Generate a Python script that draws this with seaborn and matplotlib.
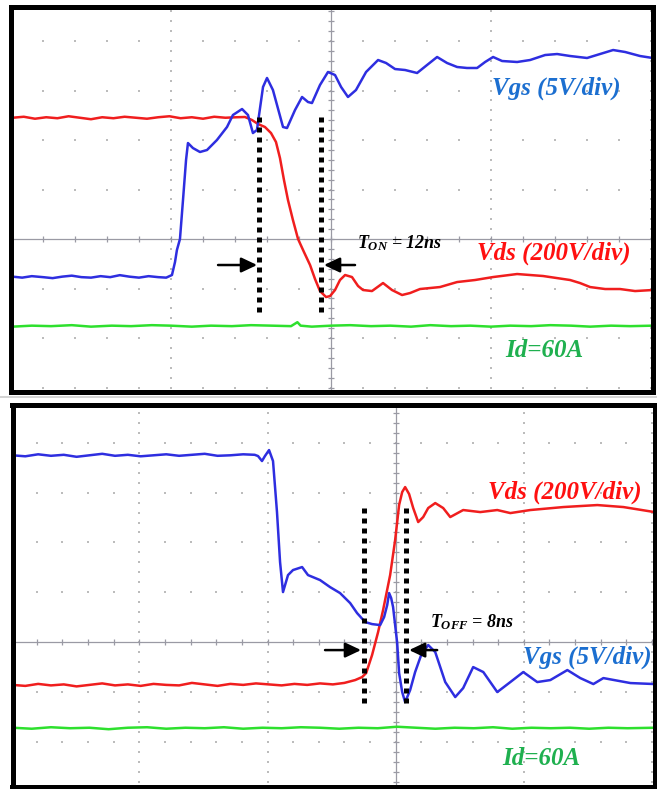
import numpy as np
import matplotlib
matplotlib.use("Agg")
import matplotlib.pyplot as plt
import seaborn as sns
from matplotlib.lines import Line2D

sns.set_theme(style="white")
plt.rcParams['font.family'] = ['Liberation Serif', 'DejaVu Serif']
plt.rcParams['mathtext.fontset'] = 'custom'
plt.rcParams['mathtext.it'] = 'Liberation Serif:italic:bold'
plt.rcParams['mathtext.rm'] = 'Liberation Serif:italic:bold'
plt.rcParams['mathtext.bf'] = 'Liberation Serif:italic:bold'

# ---------------- data (screen divisions) ----------------
# Turn-on (top panel)
on_vgs_t = [-1.99, -1.93, -1.87, -1.80, -1.74, -1.68, -1.62, -1.56, -1.50, -1.44, -1.38, -1.32, -1.26, -1.20, -1.14, -1.08, -1.03,
            -0.994, -0.975, -0.963, -0.944, -0.925, -0.906, -0.894, -0.863, -0.819, -0.775,
            -0.713, -0.650, -0.613, -0.556, -0.519, -0.488, -0.463, -0.425, -0.400, -0.363,
            -0.300, -0.275, -0.225, -0.181, -0.144, -0.119, -0.069, -0.019, 0.025, 0.063,
            0.106, 0.156, 0.219, 0.294, 0.344, 0.400, 0.463, 0.538, 0.600, 0.663,
            0.725, 0.788, 0.850, 0.913, 0.963, 1.013, 1.069, 1.163, 1.244, 1.338,
            1.413, 1.494, 1.600, 1.681, 1.763, 1.838, 1.931, 2.01]
on_vgs_v = [-0.76, -0.78, -0.75, -0.77, -0.79, -0.76, -0.74, -0.77, -0.78, -0.75, -0.77, -0.73, -0.76, -0.78, -0.75, -0.77, -0.78,
            -0.727, -0.465, -0.222, 0.0, 0.788, 1.596, 1.939, 1.838, 1.758, 1.798,
            2.0, 2.263, 2.505, 2.626, 2.505, 2.141, 2.202, 3.071, 3.253, 3.010,
            2.263, 2.242, 2.606, 2.869, 2.768, 2.747, 3.111, 3.374, 3.313, 3.071,
            2.869, 3.010, 3.374, 3.616, 3.556, 3.434, 3.414, 3.354, 3.515, 3.677,
            3.556, 3.475, 3.455, 3.455, 3.576, 3.677, 3.596, 3.576, 3.616, 3.717,
            3.737, 3.697, 3.657, 3.737, 3.818, 3.778, 3.697, 3.657]

on_vds_t = [-1.99, -1.92, -1.85, -1.78, -1.71, -1.64, -1.57, -1.50, -1.43, -1.36, -1.29, -1.22, -1.15, -1.08, -1.01, -0.94, -0.87, -0.80, -0.73, -0.66, -0.59,
            -0.538, -0.494, -0.456, -0.413, -0.375, -0.344, -0.319, -0.294, -0.269, -0.238,
            -0.206, -0.169, -0.131, -0.100, -0.069, -0.031, -0.006, 0.025, 0.056, 0.088,
            0.131, 0.169, 0.200, 0.256, 0.325, 0.381, 0.444, 0.494, 0.556, 0.681,
            0.788, 0.900, 1.013, 1.163, 1.325, 1.494, 1.556, 1.619, 1.713, 1.806,
            1.900, 2.01]
on_vds_v = [2.45, 2.47, 2.43, 2.46, 2.44, 2.48, 2.45, 2.42, 2.46, 2.44, 2.47, 2.45, 2.43, 2.46, 2.48, 2.44, 2.46, 2.43, 2.47, 2.45, 2.46,
            2.465, 2.404, 2.323, 2.263, 2.141, 1.960, 1.636, 1.192, 0.788, 0.384,
            0.0, -0.263, -0.525, -0.808, -1.051, -1.172, -1.152, -1.030, -0.828, -0.727,
            -0.768, -0.949, -1.030, -1.051, -0.889, -1.030, -1.131, -1.091, -1.010, -0.970,
            -0.869, -0.828, -0.768, -0.707, -0.747, -0.828, -0.889, -0.970, -1.010, -1.010,
            -1.051, -1.030]

on_id_t = [-1.99, -1.87, -1.75, -1.62, -1.50, -1.37, -1.25, -1.12, -1.00, -0.87, -0.75, -0.62, -0.50, -0.37, -0.25, -0.21, -0.19,
           -0.12, 0.00, 0.12, 0.25, 0.37, 0.50, 0.62, 0.75, 0.87, 1.00, 1.12, 1.25, 1.37, 1.50, 1.62, 1.75, 1.87, 2.01]
on_id_v = [-1.77, -1.75, -1.76, -1.74, -1.77, -1.75, -1.76, -1.74, -1.75, -1.77, -1.75, -1.76, -1.74, -1.75, -1.76, -1.68, -1.75,
           -1.77, -1.75, -1.74, -1.76, -1.75, -1.77, -1.74, -1.76, -1.75, -1.77, -1.75, -1.76, -1.74, -1.75, -1.77, -1.75, -1.76, -1.75]

# Turn-off (bottom panel)
off_vgs_t = [-2.99, -2.89, -2.79, -2.69, -2.59, -2.49, -2.39, -2.29, -2.19, -2.09, -1.99, -1.89, -1.79, -1.69, -1.59, -1.49, -1.39, -1.29, -1.19, -1.10,
             -1.074, -1.043, -1.020, -0.988, -0.957, -0.926, -0.902, -0.879, -0.840, -0.801,
             -0.730, -0.684, -0.590, -0.512, -0.434, -0.355, -0.301, -0.238, -0.184, -0.121,
             -0.090, -0.066, -0.051, -0.035, -0.020, 0.012, 0.027, 0.051, 0.074, 0.113,
             0.152, 0.199, 0.254, 0.309, 0.387, 0.465, 0.527, 0.605, 0.684, 0.793,
             0.895, 0.996, 1.105, 1.207, 1.340, 1.441, 1.543, 1.621, 1.832, 2.02]
off_vgs_v = [3.75, 3.73, 3.77, 3.74, 3.76, 3.72, 3.75, 3.78, 3.74, 3.76, 3.73, 3.75, 3.77, 3.74, 3.76, 3.78, 3.74, 3.75, 3.77, 3.76,
             3.735, 3.635, 3.735, 3.855, 3.635, 2.610, 1.606, 1.004, 1.345, 1.446,
             1.506, 1.345, 1.245, 1.104, 0.984, 0.783, 0.582, 0.402, 0.361, 0.341,
             0.502, 0.743, 0.984, 0.884, 0.703, -0.020, -0.622, -1.004, -1.205, -0.964,
             -0.602, -0.261, -0.060, -0.201, -0.803, -1.104, -0.924, -0.502, -0.602, -1.004,
             -0.803, -0.602, -0.803, -0.763, -0.562, -0.723, -0.843, -0.723, -0.823, -0.843]

off_vds_t = [-2.99, -2.89, -2.79, -2.69, -2.59, -2.49, -2.39, -2.29, -2.19, -2.09, -1.99, -1.89, -1.79, -1.69, -1.59, -1.49, -1.39, -1.29,
             -1.19, -1.09, -0.99, -0.89, -0.79, -0.69, -0.59, -0.49, -0.40,
             -0.316, -0.262, -0.230, -0.184, -0.137, -0.098, -0.043, -0.004, 0.027, 0.051,
             0.074, 0.105, 0.137, 0.176, 0.215, 0.254, 0.309, 0.371, 0.426, 0.527,
             0.660, 0.793, 0.895, 1.051, 1.309, 1.574, 1.777, 2.02]
off_vds_v = [-0.86, -0.88, -0.84, -0.87, -0.85, -0.89, -0.86, -0.83, -0.87, -0.85, -0.88, -0.84, -0.86, -0.87, -0.82, -0.85, -0.88, -0.84,
             -0.86, -0.83, -0.85, -0.87, -0.84, -0.86, -0.83, -0.85, -0.82,
             -0.763, -0.703, -0.622, -0.261, 0.201, 0.643, 1.345, 2.048, 2.751, 3.012,
             3.112, 2.972, 2.691, 2.410, 2.510, 2.691, 2.791, 2.691, 2.510, 2.651,
             2.610, 2.651, 2.590, 2.651, 2.711, 2.751, 2.711, 2.610]

off_id_t = [-2.99, -2.84, -2.69, -2.54, -2.39, -2.24, -2.09, -1.94, -1.79, -1.64, -1.49, -1.34, -1.19, -1.04, -0.89, -0.74, -0.59,
            -0.44, -0.29, -0.14, 0.01, 0.16, 0.31, 0.46, 0.61, 0.76, 0.91, 1.06, 1.21, 1.36, 1.51, 1.66, 1.81, 2.02]
off_id_v = [-1.72, -1.74, -1.71, -1.73, -1.72, -1.75, -1.72, -1.71, -1.74, -1.72, -1.73, -1.71, -1.74, -1.72, -1.73, -1.71, -1.72,
            -1.74, -1.72, -1.73, -1.70, -1.72, -1.74, -1.72, -1.73, -1.71, -1.74, -1.72, -1.73, -1.72, -1.74, -1.72, -1.73, -1.72]

ch_labels = ["Vgs (5V/div)", "Vds (200V/div)", "Id=60A"]
t_on_label = r"$T_{ON}$ = 12ns"
t_off_label = r"$T_{OFF}$ = 8ns"

# ---------------- styling ----------------
C_VGS, C_VDS, C_ID = "#2e2ee0", "#f01e1e", "#2ee02e"
T_VGS, T_VDS, T_ID = "#1c6fd0", "#ff1010", "#1fb04f"
DOT = "#bcbcbc"
AXC = "#9a9aa4"

fig = plt.figure(figsize=(6.57, 7.89), dpi=100)
fig.patch.set_facecolor("white")
W, H = 657.0, 789.0
ax1 = fig.add_axes([10.5 / W, 397.5 / H, 642 / W, 384.5 / H])
ax2 = fig.add_axes([12.5 / W, 2.0 / H, 642 / W, 382.5 / H])
fig.add_artist(Line2D([0, 1], [1 - 396.5 / H, 1 - 396.5 / H], color="#cccccc", lw=1.2))


def graticule(ax, xlim, ylim):
    ax.set_xlim(*xlim)
    ax.set_ylim(*ylim)
    xs = np.round(np.arange(np.ceil(xlim[0] / 0.2) * 0.2, xlim[1], 0.2), 4)
    ys = np.round(np.arange(np.ceil(ylim[0] / 0.2) * 0.2, ylim[1], 0.2), 4)
    for gx in range(int(np.ceil(xlim[0])), int(np.floor(xlim[1])) + 1):
        if gx == 0:
            continue
        ax.plot([gx] * len(ys), ys, ls="none", marker="s", ms=1.5, mew=0, color=DOT, zorder=1)
    for gy in range(int(np.ceil(ylim[0])), int(np.floor(ylim[1])) + 1):
        if gy == 0:
            continue
        ax.plot(xs, [gy] * len(xs), ls="none", marker="s", ms=1.5, mew=0, color=DOT, zorder=1)
    ax.axhline(0, color=AXC, lw=0.9, zorder=1)
    ax.axvline(0, color=AXC, lw=0.9, zorder=1)
    ax.plot(xs, np.zeros_like(xs), ls="none", marker="|", ms=5, mew=0.9, color=AXC, zorder=1)
    ax.plot(np.zeros_like(ys), ys, ls="none", marker="_", ms=5, mew=0.9, color=AXC, zorder=1)
    ax.set_xticks([])
    ax.set_yticks([])
    for s in ax.spines.values():
        s.set_visible(True)
        s.set_color("black")
        s.set_linewidth(3.6)
        s.set_zorder(10)


def trace(ax, t, v, color):
    sns.lineplot(x=t, y=v, ax=ax, color=color, lw=1.8, sort=False, estimator=None, zorder=3)


def marker_line(ax, x, y0, y1):
    ax.plot([x, x], [y0, y1], color="black", lw=3.6, dashes=(1, 1),
            dash_capstyle="butt", solid_capstyle="butt", zorder=5)


def arrow(ax, tail, tip):
    ax.annotate("", xy=tip, xytext=tail,
                arrowprops=dict(arrowstyle="-|>,head_length=0.95,head_width=0.45",
                                lw=1.8, color="black", shrinkA=0, shrinkB=0,
                                mutation_scale=10), zorder=6)


def label(ax, x, y, s, color, size=18):
    ax.text(x, y, s, color=color, fontsize=size, fontweight="bold", fontstyle="italic",
            ha="left", va="center", zorder=7, clip_on=True)


# ---- top panel: turn-on ----
graticule(ax1, (-2.003, 2.009), (-3.08, 4.687))
trace(ax1, on_id_t, on_id_v, C_ID)
trace(ax1, on_vds_t, on_vds_v, C_VDS)
trace(ax1, on_vgs_t, on_vgs_v, C_VGS)
marker_line(ax1, -0.45, 2.465, -1.576)
marker_line(ax1, -0.0625, 2.465, -1.576)
arrow(ax1, (-0.706, -0.525), (-0.462, -0.525))
arrow(ax1, (0.15, -0.525), (-0.044, -0.525))
label(ax1, 1.006, 3.05, ch_labels[0], T_VGS)
label(ax1, 0.9125, -0.283, ch_labels[1], T_VDS)
label(ax1, 1.0875, -2.242, ch_labels[2], T_ID)
label(ax1, 0.1625, -0.08, t_on_label, "black", size=13)

# ---- bottom panel: turn-off ----
graticule(ax2, (-2.99, 2.02), (-2.91, 4.77))
trace(ax2, off_id_t, off_id_v, C_ID)
trace(ax2, off_vds_t, off_vds_v, C_VDS)
trace(ax2, off_vgs_t, off_vgs_v, C_VGS)
marker_line(ax2, -0.246, 2.691, -1.325)
marker_line(ax2, 0.082, 2.691, -1.325)
arrow(ax2, (-0.551, -0.161), (-0.27, -0.161))
arrow(ax2, (0.324, -0.161), (0.105, -0.161))
label(ax2, 0.723, 3.012, ch_labels[1], T_VDS)
label(ax2, 0.996, -0.301, ch_labels[0], T_VGS)
label(ax2, 0.832, -2.329, ch_labels[2], T_ID)
label(ax2, 0.27, 0.40, t_off_label, "black", size=13)

for ax in (ax1, ax2):
    ax.set_xlabel("")
    ax.set_ylabel("")

fig.savefig("out.png", dpi=100, facecolor="white")
